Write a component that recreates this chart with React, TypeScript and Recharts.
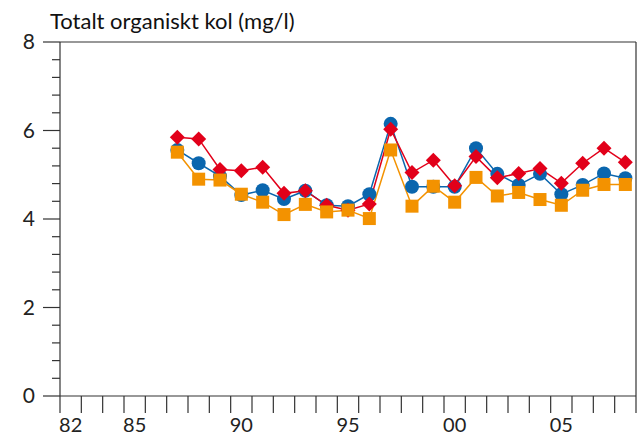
import { LineChart, Line, XAxis, YAxis, ReferenceLine } from 'recharts';

// Years 1987–2008, values in mg/l
const years = [
  1987, 1988, 1989, 1990, 1991, 1992, 1993, 1994, 1995, 1996, 1997,
  1998, 1999, 2000, 2001, 2002, 2003, 2004, 2005, 2006, 2007, 2008,
];
const blueValues = [
  5.56, 5.26, 4.97, 4.54, 4.65, 4.45, 4.64, 4.31, 4.29, 4.56, 6.15,
  4.73, 4.73, 4.73, 5.6, 5.02, 4.77, 5.02, 4.56, 4.77, 5.03, 4.92,
];
const redValues = [
  5.85, 5.81, 5.12, 5.09, 5.17, 4.58, 4.64, 4.31, 4.2, 4.34, 6.03,
  5.05, 5.33, 4.75, 5.41, 4.93, 5.03, 5.14, 4.81, 5.26, 5.6, 5.28,
];
const orangeValues = [
  5.51, 4.9, 4.88, 4.56, 4.38, 4.1, 4.33, 4.16, 4.2, 4.01, 5.56,
  4.29, 4.74, 4.38, 4.94, 4.52, 4.6, 4.44, 4.31, 4.65, 4.78, 4.78,
];
// year boundaries get a tick line; the middle of a labelled year gets its label
const yearTicks = [
  1982, 1983, 1984, 1985, 1986, 1987, 1988, 1989, 1990, 1991, 1992, 1993, 1994, 1995,
  1996, 1997, 1998, 1999, 2000, 2001, 2002, 2003, 2004, 2005, 2006, 2007, 2008, 2009,
];
const labelYears = [1982, 1985, 1990, 1995, 2000, 2005];
const yTicks = [0, 0.4, 0.8, 1.2, 1.6, 2, 2.4, 2.8, 3.2, 3.6, 4, 4.4, 4.8, 5.2, 5.6, 6, 6.4, 6.8, 7.2, 7.6, 8];

// points sit in the middle of each year slot
const data = years.map((y, i) => ({
  x: y + 0.5,
  blue: blueValues[i],
  red: redValues[i],
  orange: orangeValues[i],
}));

const xTicks = [...yearTicks, ...labelYears.map((y) => y + 0.5)].sort((a, b) => a - b);

const FONT = 'Lato, "Open Sans", sans-serif';
const AXIS = '#333';
const BLUE = '#0a66ae';
const RED = '#e2001a';
const ORANGE = '#f39200';
const Y_TICK = 17;
const X_TICK = 17;

function YTick({ x, y, payload }: any) {
  const v = payload.value as number;
  const major = Math.abs(v - Math.round(v)) < 1e-6 && Math.round(v) % 2 === 0;
  const right = x + Y_TICK;
  return (
    <g>
      <line x1={right - (major ? Y_TICK : 8)} x2={right} y1={y} y2={y} stroke={AXIS} strokeWidth={1.2} />
      {major && (
        <text x={x - 8} y={y} dy={7} textAnchor="end" fontSize={21} fontFamily={FONT} fill="#222">
          {Math.round(v)}
        </text>
      )}
    </g>
  );
}

function XTick({ x, y, payload }: any) {
  const v = payload.value as number;
  const top = y - X_TICK;
  if (Number.isInteger(v)) {
    return <line x1={x} x2={x} y1={top} y2={top + X_TICK} stroke={AXIS} strokeWidth={1.2} />;
  }
  return (
    <text x={x} y={top + X_TICK + 19} textAnchor="middle" fontSize={20} fontFamily={FONT} fill="#222">
      {String(Math.floor(v) % 100).padStart(2, '0')}
    </text>
  );
}

function Diamond({ cx, cy, index }: any) {
  const s = 7.5;
  return (
    <path
      key={`d-${index}`}
      d={`M${cx},${cy - s}L${cx + s},${cy}L${cx},${cy + s}L${cx - s},${cy}Z`}
      fill={RED}
    />
  );
}

function Square({ cx, cy, index }: any) {
  const s = 6.5;
  return <rect key={`s-${index}`} x={cx - s} y={cy - s} width={s * 2} height={s * 2} fill={ORANGE} />;
}

export default function App() {
  return (
    <div style={{ position: 'absolute', left: 0, top: 0, width: 640, height: 437, background: '#fff' }}>
      <div
        style={{
          position: 'absolute',
          left: 50,
          top: 8,
          fontFamily: FONT,
          fontSize: 22,
          lineHeight: '26px',
          color: '#111',
          whiteSpace: 'nowrap',
        }}
      >
        Totalt organiskt kol (mg/l)
      </div>
      <LineChart width={640} height={437} data={data} margin={{ top: 42, right: 4, bottom: 0, left: 0 }}>
        <XAxis
          dataKey="x"
          type="number"
          domain={[1982, 2009]}
          ticks={xTicks}
          interval={0}
          tickLine={false}
          tickSize={X_TICK}
          tickMargin={0}
          tick={<XTick />}
          height={41}
          stroke={AXIS}
          strokeWidth={1.2}
        />
        <YAxis
          domain={[0, 8]}
          ticks={yTicks}
          interval={0}
          tickLine={false}
          tickSize={Y_TICK}
          tickMargin={0}
          width={60}
          stroke={AXIS}
          strokeWidth={1.2}
          tick={<YTick />}
        />
        <ReferenceLine y={8} stroke={AXIS} strokeWidth={1.2} />
        <ReferenceLine x={2009} stroke={AXIS} strokeWidth={1.2} />
        <Line
          dataKey="blue"
          stroke={BLUE}
          strokeWidth={1.5}
          dot={{ r: 7, fill: BLUE, stroke: 'none' }}
          isAnimationActive={false}
        />
        <Line dataKey="red" stroke={RED} strokeWidth={1.5} dot={<Diamond />} isAnimationActive={false} />
        <Line dataKey="orange" stroke={ORANGE} strokeWidth={1.5} dot={<Square />} isAnimationActive={false} />
      </LineChart>
    </div>
  );
}
